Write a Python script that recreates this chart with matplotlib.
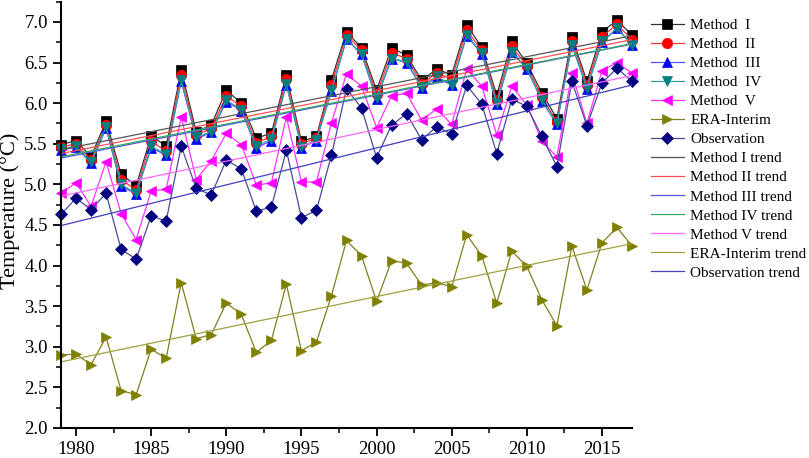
import numpy as np
import matplotlib
matplotlib.use("Agg")
import matplotlib.pyplot as plt
from matplotlib.ticker import MultipleLocator

years = list(range(1979, 2018))

method1 = [5.49, 5.54, 5.34, 5.78, 5.13, 4.98, 5.60, 5.47, 6.41, 5.65, 5.73, 6.16, 6.00,
           5.57, 5.63, 6.35, 5.53, 5.59, 6.29, 6.88, 6.68, 6.16, 6.68, 6.59, 6.28, 6.42,
           6.35, 6.96, 6.69, 6.10, 6.76, 6.49, 6.13, 5.81, 6.82, 6.27, 6.88, 7.02, 6.84]
method2 = [5.46, 5.50, 5.30, 5.73, 5.06, 4.93, 5.53, 5.41, 6.35, 5.61, 5.69, 6.09, 5.96,
           5.51, 5.59, 6.30, 5.50, 5.57, 6.23, 6.84, 6.65, 6.11, 6.62, 6.55, 6.24, 6.37,
           6.30, 6.90, 6.65, 6.04, 6.70, 6.46, 6.08, 5.77, 6.77, 6.23, 6.82, 6.97, 6.78]
method3 = [5.42, 5.46, 5.26, 5.69, 4.98, 4.88, 5.45, 5.36, 6.27, 5.56, 5.64, 6.02, 5.91,
           5.45, 5.54, 6.23, 5.45, 5.54, 6.15, 6.79, 6.60, 6.05, 6.55, 6.50, 6.19, 6.32,
           6.22, 6.83, 6.61, 5.99, 6.63, 6.42, 6.03, 5.74, 6.72, 6.18, 6.75, 6.92, 6.72]
method4 = [5.43, 5.47, 5.27, 5.71, 5.00, 4.89, 5.47, 5.37, 6.28, 5.58, 5.65, 6.04, 5.92,
           5.47, 5.56, 6.24, 5.46, 5.55, 6.16, 6.79, 6.61, 6.07, 6.55, 6.51, 6.20, 6.33,
           6.23, 6.84, 6.62, 6.00, 6.63, 6.43, 6.04, 5.75, 6.72, 6.19, 6.76, 6.92, 6.72]
method5 = [4.89, 5.02, 4.73, 5.28, 4.64, 4.32, 4.92, 4.94, 5.83, 5.06, 5.29, 5.63, 5.49,
           4.99, 5.02, 5.83, 5.03, 5.03, 5.76, 6.36, 6.21, 5.70, 6.09, 6.12, 5.79, 5.93,
           5.74, 6.42, 6.21, 5.61, 6.21, 5.98, 5.53, 5.34, 6.37, 5.75, 6.40, 6.50, 6.37]
era = [2.90, 2.91, 2.78, 3.12, 2.46, 2.41, 2.97, 2.86, 3.79, 3.10, 3.15, 3.54, 3.40,
       2.93, 3.08, 3.77, 2.95, 3.06, 3.63, 4.31, 4.12, 3.56, 4.06, 4.03, 3.76, 3.79,
       3.74, 4.38, 4.12, 3.54, 4.18, 3.99, 3.58, 3.26, 4.24, 3.70, 4.28, 4.47, 4.24]
obs = [4.63, 4.83, 4.69, 4.89, 4.20, 4.08, 4.61, 4.55, 5.47, 4.95, 4.87, 5.30, 5.19,
       4.67, 4.72, 5.42, 4.59, 4.68, 5.36, 6.18, 5.94, 5.33, 5.73, 5.87, 5.55, 5.71,
       5.62, 6.22, 5.99, 5.38, 6.05, 5.96, 5.59, 5.22, 6.27, 5.72, 6.25, 6.43, 6.27]

labels = ["Method  I", "Method  II", "Method  III", "Method  IV", "Method  V",
          "ERA-Interim", "Observation"]
trend_labels = ["Method I trend", "Method II trend", "Method III trend", "Method IV trend",
                "Method V trend", "ERA-Interim trend", "Observation trend"]

series = [method1, method2, method3, method4, method5, era, obs]
markers = ["s", "o", "^", "v", "<", ">", "D"]
mcolors = ["#000000", "#ff0000", "#0000ff", "#008080", "#ff00ff", "#808000", "#000080"]
lcolors = ["#333333", "#ff3333", "#5555ff", "#33a0a0", "#ff33ff", "#808020", "#4a4a9a"]
msizes = [7.5, 7.5, 7.5, 7.5, 7.5, 7.5, 6.5]
tcolors = ["#555555", "#ff5050", "#5555dd", "#33aa66", "#ff66ff", "#a0a040", "#4040c0"]

plt.rcParams['font.family'] = ['Liberation Serif', 'DejaVu Serif']

fig = plt.figure(figsize=(8.09, 4.58), dpi=100)
ax = fig.add_axes([61/809, 30/458, (632-61)/809, (456.3-30)/458])

x = np.array(years)
handles = []
for s, m, mc, lc, ms, lab in zip(series, markers, mcolors, lcolors, msizes, labels):
    h, = ax.plot(x, s, color=lc, lw=0.9, marker=m, markersize=ms,
                 markerfacecolor=mc, markeredgecolor=mc, markeredgewidth=0.5,
                 label=lab, clip_on=False)
    handles.append(h)
for s, tc, lab in zip(series, tcolors, trend_labels):
    k, b = np.polyfit(x, np.array(s), 1)
    h, = ax.plot(x, k * x + b, color=tc, lw=0.9, label=lab)
    handles.append(h)

ax.set_xlim(1979, 2017)
ax.set_ylim(2.0, 7.25)
ax.xaxis.set_major_locator(MultipleLocator(5))
ax.xaxis.set_minor_locator(MultipleLocator(2.5))
ax.yaxis.set_major_locator(MultipleLocator(0.5))
ax.yaxis.set_minor_locator(MultipleLocator(0.25))
ax.yaxis.set_major_formatter(matplotlib.ticker.FormatStrFormatter('%.1f'))
for sp in ["top", "right"]:
    ax.spines[sp].set_visible(False)
for sp in ["left", "bottom"]:
    ax.spines[sp].set_linewidth(1.5)
ax.tick_params(which="major", direction="out", length=6, width=1.3, labelsize=13.5)
ax.tick_params(which="minor", direction="out", length=3.5, width=1.1)
fig.text(10/809, 1 - 211/458, "Temperature (°C)", fontsize=16, rotation=90,
         ha="center", va="center")

leg = ax.legend(handles=handles, loc="upper left", bbox_to_anchor=(1.022, 0.975),
                frameon=False, fontsize=11, handlelength=2.2, handletextpad=0.4,
                labelspacing=0.35, borderaxespad=0.0)

fig.savefig("out.png", dpi=100)
